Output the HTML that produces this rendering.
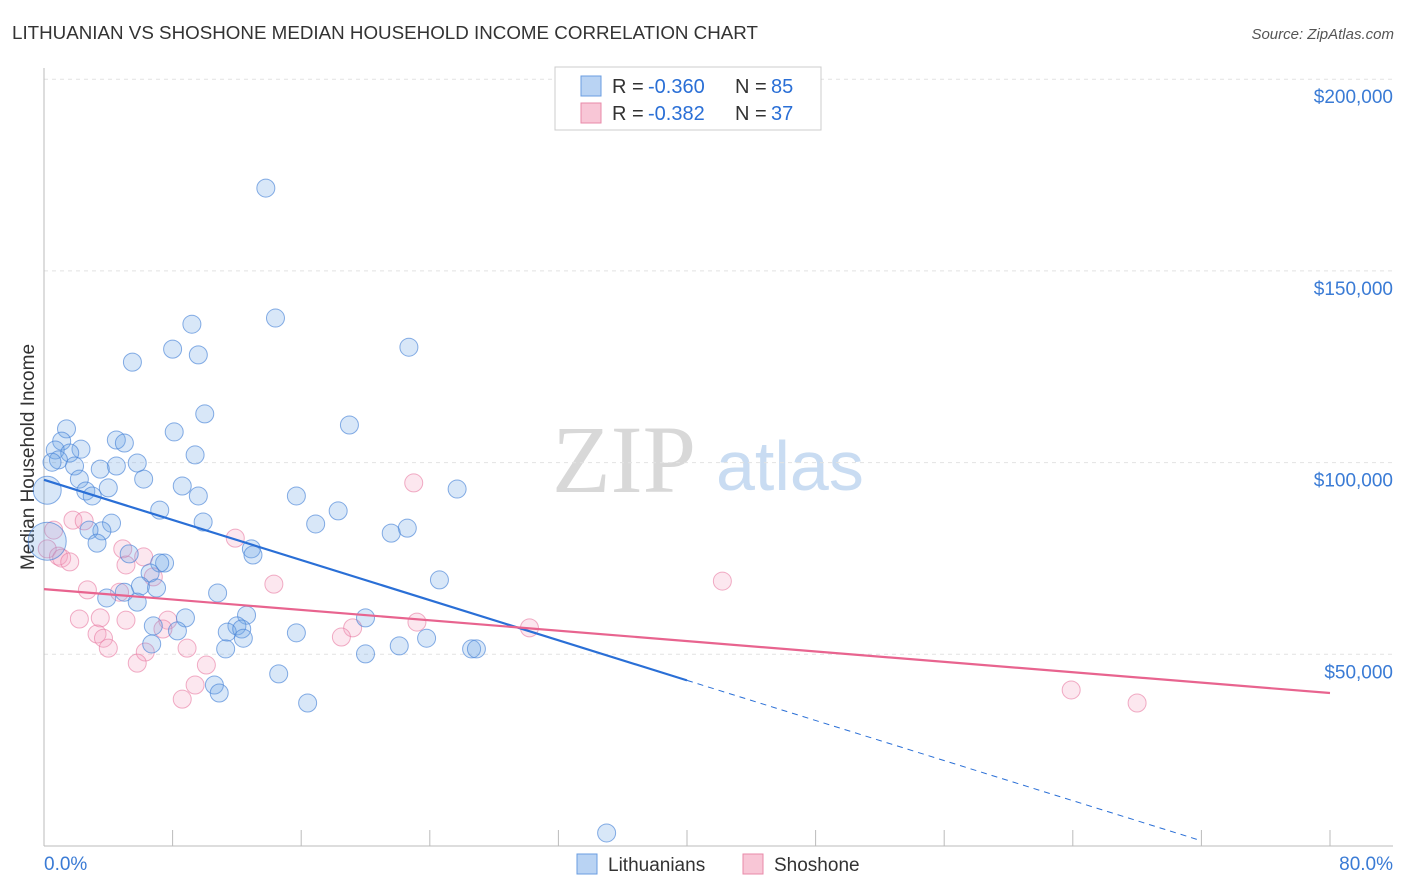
<!DOCTYPE html>
<html><head><meta charset="utf-8"><style>
body{margin:0;background:#fff;font-family:"Liberation Sans",sans-serif;}
svg{display:block}
</style></head><body>
<svg id="c" width="1406" height="892" xmlns="http://www.w3.org/2000/svg">
<text x="12" y="39" font-size="18" fill="#333" textLength="746" lengthAdjust="spacingAndGlyphs">LITHUANIAN VS SHOSHONE MEDIAN HOUSEHOLD INCOME CORRELATION CHART</text>
<text x="1394" y="39" font-size="15" fill="#555" text-anchor="end" font-style="italic">Source: ZipAtlas.com</text>
<text x="34" y="457" font-size="19" fill="#333" text-anchor="middle" transform="rotate(-90 34 457)">Median Household Income</text>
<g><text x="552" y="492" font-size="96" font-family="Liberation Serif,serif" fill="#d8d8d8">ZIP</text><text x="716" y="490" font-size="70" fill="#c9dcf2">atlas</text></g>
<g id="grid"></g><g id="marks"></g>
<g>
<rect x="555" y="67" width="266" height="63" fill="#fff" stroke="#ccc"/>
<rect x="581" y="76" width="20" height="20" fill="#b9d3f3" stroke="#6a9de0"/>
<rect x="581" y="103" width="20" height="20" fill="#f8c6d6" stroke="#e88aa8"/>
<text x="612" y="93" font-size="20" fill="#333">R =</text><text x="648" y="93" font-size="20" fill="#2a6fd6">-0.360</text>
<text x="735" y="93" font-size="20" fill="#333">N =</text><text x="771" y="93" font-size="20" fill="#2a6fd6">85</text>
<text x="612" y="120" font-size="20" fill="#333">R =</text><text x="648" y="120" font-size="20" fill="#2a6fd6">-0.382</text>
<text x="735" y="120" font-size="20" fill="#333">N =</text><text x="771" y="120" font-size="20" fill="#2a6fd6">37</text>
</g>
<g>
<rect x="577" y="854" width="20" height="20" fill="#b9d3f3" stroke="#6a9de0"/>
<text x="608" y="871" font-size="19" fill="#333">Lithuanians</text>
<rect x="743" y="854" width="20" height="20" fill="#f8c6d6" stroke="#e88aa8"/>
<text x="774" y="871" font-size="19" fill="#333">Shoshone</text>
</g>
<text x="44" y="870" font-size="19" fill="#3a7bd5">0.0%</text>
<text x="1393" y="870" font-size="19" fill="#3a7bd5" text-anchor="end">80.0%</text>
</svg>
<script>
const yTicks=[50000,100000,150000,200000];
const yTickLabels=["$50,000","$100,000","$150,000","$200,000"];
const xTicks=[0,8,16,24,32,40,48,56,64,72,80];
const blueX=[13.8,14.4,9.2,8.0,9.6,22.7,5.5,10.0,19.0,8.1,1.4,1.1,4.5,5.0,2.3,0.7,1.6,0.9,9.4,0.5,1.9,4.5,5.8,3.5,2.2,6.2,25.7,2.6,4.0,3.0,8.6,15.7,9.6,18.3,7.2,9.9,16.9,22.6,4.2,3.6,2.8,21.6,3.3,12.9,13.0,5.3,7.5,7.2,6.6,24.6,6.0,7.0,5.0,10.8,3.9,5.8,12.6,8.8,20.0,6.8,12.0,8.3,11.4,15.7,12.3,12.4,23.8,22.1,26.6,26.9,6.7,11.3,20.0,14.6,10.6,10.9,16.4,35.0,0.2,0.2];
const blueY=[171.6,137.7,136.1,129.6,128.1,130.1,126.2,112.7,109.8,108.0,108.8,105.6,105.9,105.1,103.5,103.3,102.5,100.7,102.0,100.1,99.1,99.1,99.9,98.3,95.7,95.7,93.1,92.6,93.4,91.3,93.9,91.3,91.3,87.4,87.6,84.5,84.0,82.9,84.2,82.2,82.4,81.6,79.0,77.5,75.9,76.2,73.8,73.8,71.2,69.4,67.8,67.3,66.2,66.0,64.7,63.6,60.2,59.5,59.5,57.4,57.4,56.1,55.8,55.6,56.6,54.2,54.2,52.2,51.4,51.4,52.7,51.4,50.1,44.9,42.0,39.9,37.3,3.4,92.8,79.5];
const pinkX=[0.6,1.8,2.5,0.2,0.9,1.1,1.6,4.9,6.2,5.1,6.8,11.9,23.0,42.2,14.3,2.7,4.7,2.2,3.5,5.1,7.7,7.4,3.3,3.7,4.0,19.2,18.5,23.2,30.2,8.9,6.3,10.1,5.8,9.4,8.6,63.9,68.0];
const pinkY=[82.4,85.0,84.8,77.5,75.6,75.1,74.1,77.5,75.4,73.3,70.2,80.3,94.7,69.1,68.3,66.8,66.2,59.2,59.5,58.9,58.9,56.6,55.3,54.2,51.6,56.9,54.5,58.4,56.9,51.6,50.6,47.2,47.7,42.0,38.3,40.7,37.3];
const blueTrend=[95.5,-9.1], blueSolidEnd=40, blueDashEnd=71.9;
const pinkTrend=[67.0,39.9];
const NS="http://www.w3.org/2000/svg";
const X=p=>44+p/80*1286, Y=v=>846-v/50000*191.7, Yk=v=>Y(v*1000);
function mk(t,a,parent){const e=document.createElementNS(NS,t);for(const k in a)e.setAttribute(k,a[k]);parent.appendChild(e);return e;}
const g=document.getElementById('grid'), m=document.getElementById('marks');
yTicks.forEach((v,i)=>{
 const l=mk('line',{x1:44,x2:1393,y1:Y(v),y2:Y(v),stroke:'#e2e2e2','stroke-dasharray':'4,4'},g);
 
 
 const t=mk('text',{x:1393,y:Y(v)+24,'font-size':19,fill:'#3a7bd5','text-anchor':'end'},g);
 t.textContent=yTickLabels[i];
 
 
});
const ya=mk('line',{x1:44,x2:44,y1:68,y2:846,stroke:'#bbb'},g);


const xa=mk('line',{x1:44,x2:1393,y1:846,y2:846,stroke:'#bbb'},g);


xTicks.forEach(p=>{const t=mk('line',{x1:X(p),x2:X(p),y1:830,y2:846,stroke:'#bbb'},g);
 
 });
pinkX.forEach((x,i)=>{const c=mk('circle',{cx:X(x),cy:Yk(pinkY[i]),r:9,fill:'rgba(243,160,190,0.25)',stroke:'rgba(232,120,160,0.6)','stroke-width':1},m);
 
 });
blueX.forEach((x,i)=>{const big=i>=blueX.length-2;const c=mk('circle',{cx:X(x),cy:Yk(blueY[i]),r:big?(i==blueX.length-1?19:14):9,fill:'rgba(110,165,230,0.27)',stroke:'rgba(70,130,215,0.65)','stroke-width':1},m);
 
 });
const by=p=>blueTrend[0]+(blueTrend[1]-blueTrend[0])*p/80;
const b1=mk('line',{x1:X(0),y1:Yk(by(0)),x2:X(blueSolidEnd),y2:Yk(by(blueSolidEnd)),stroke:'#2a6fd6','stroke-width':2.2},m);


const b2=mk('line',{x1:X(blueSolidEnd),y1:Yk(by(blueSolidEnd)),x2:X(blueDashEnd),y2:Yk(by(blueDashEnd)),stroke:'#2a6fd6','stroke-width':1,'stroke-dasharray':'6,5'},m);


const p1=mk('line',{x1:X(0),y1:Yk(pinkTrend[0]),x2:X(80),y2:Yk(pinkTrend[1]),stroke:'#e8648f','stroke-width':2.2},m);


</script>
</body></html>
